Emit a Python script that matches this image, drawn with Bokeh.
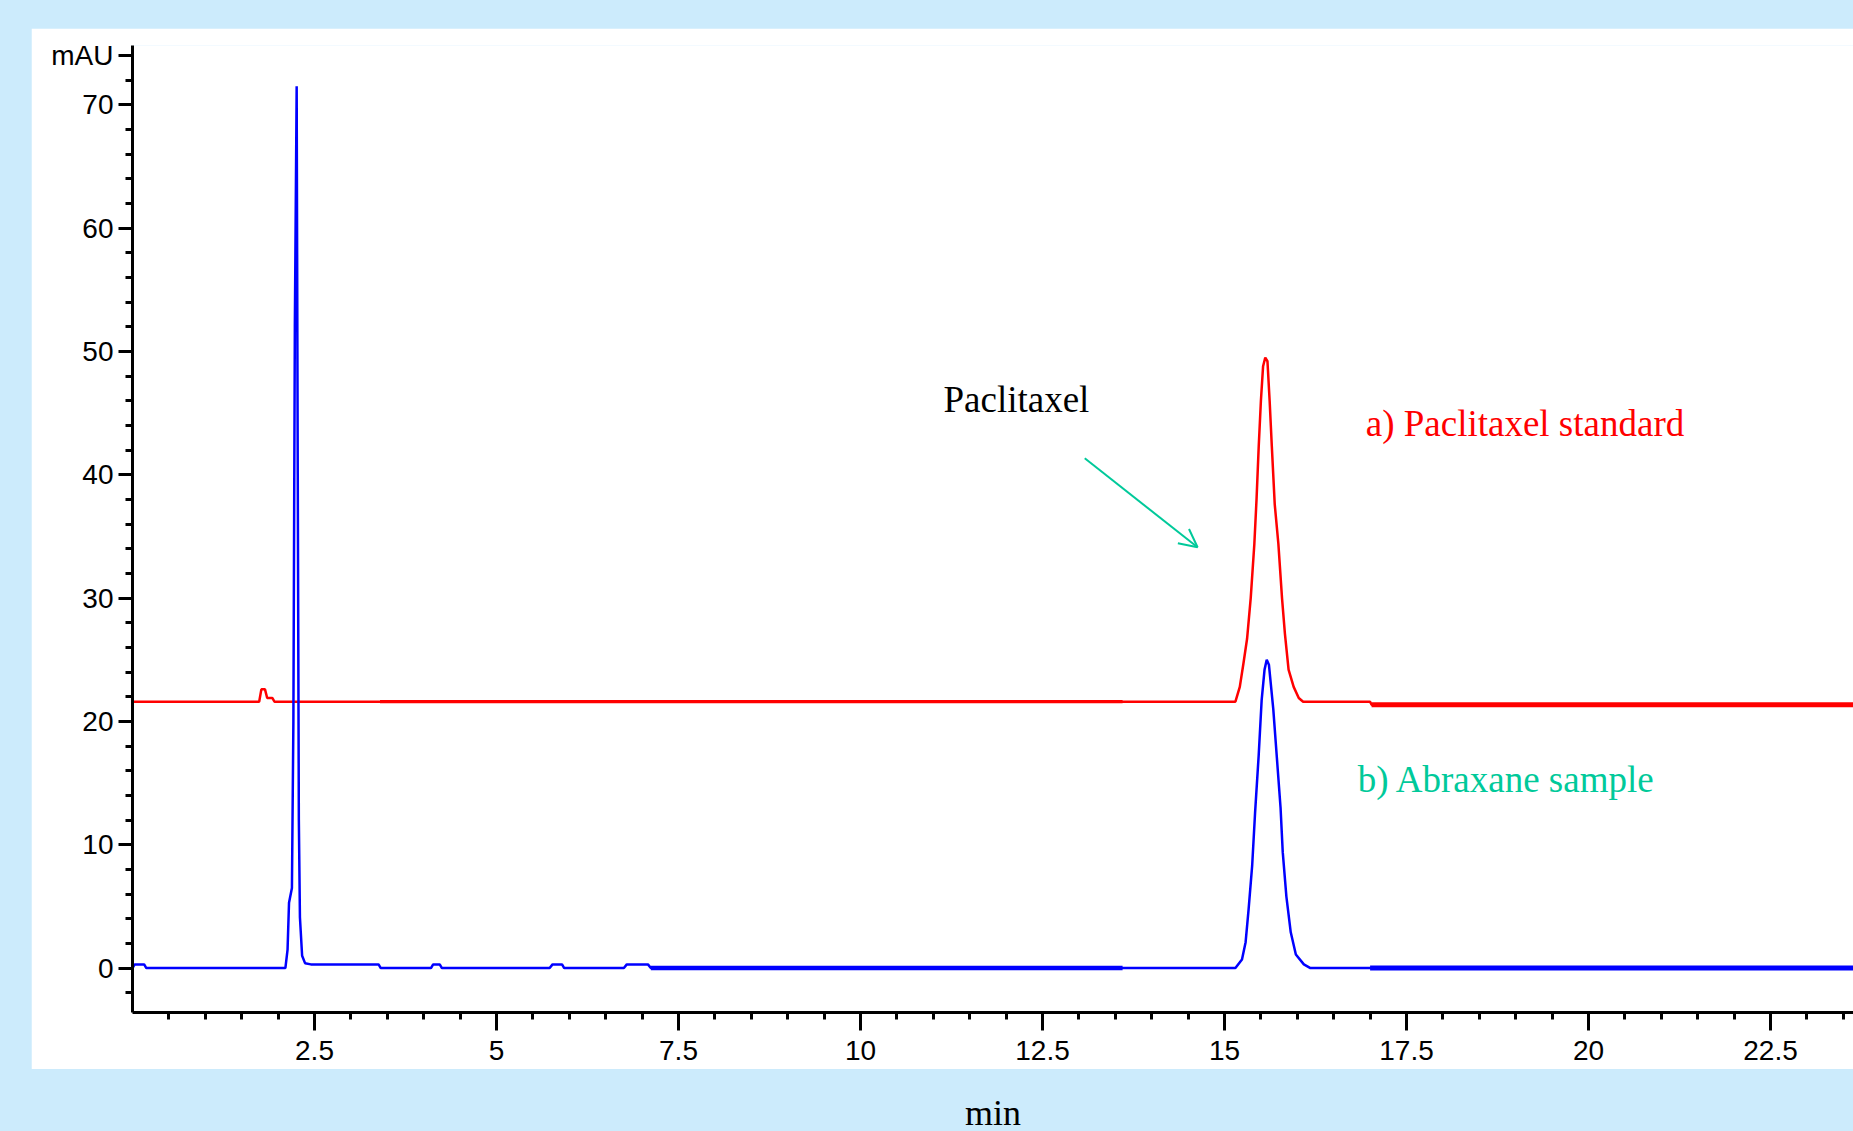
from bokeh.plotting import figure
from bokeh.models import FixedTicker, Label, Arrow, OpenHead, Div
from bokeh.layouts import column
from bokeh.embed import file_html
from bokeh.resources import INLINE

# ---------------- data ----------------
# b) Abraxane sample (blue)
blue_t = [0.00, 0.03, 0.08, 0.16, 0.19, 2.10, 2.13, 2.15, 2.19, 2.21, 2.23, 2.255,
          2.27, 2.285, 2.30, 2.33, 2.37, 2.45, 3.38, 3.41, 4.10, 4.13, 4.22, 4.25,
          5.73, 5.77, 5.90, 5.93, 6.75, 6.79, 7.08, 7.12, 13.6, 15.15, 15.24, 15.29,
          15.33, 15.38, 15.42, 15.47, 15.51, 15.55, 15.58, 15.61, 15.67, 15.72, 15.77,
          15.80, 15.85, 15.91, 15.98, 16.09, 16.18, 17.0, 23.7]
blue_mau = [0.0, 0.3, 0.3, 0.3, 0.0, 0.0, 1.5, 5.3, 6.5, 20.0, 52.0, 71.5,
            40.0, 12.0, 4.1, 1.0, 0.4, 0.3, 0.3, 0.0, 0.0, 0.3, 0.3, 0.0,
            0.0, 0.3, 0.3, 0.0, 0.0, 0.3, 0.3, 0.0, 0.0, 0.0, 0.7, 2.1,
            4.7, 8.3, 12.6, 17.3, 21.7, 24.2, 25.0, 24.6, 21.0, 17.0, 13.0,
            9.4, 5.8, 2.9, 1.1, 0.3, 0.0, 0.0, 0.0]

# a) Paclitaxel standard (red)
red_t = [0.0, 1.74, 1.77, 1.82, 1.85, 1.92, 1.95, 3.4, 13.6, 15.15, 15.21, 15.26,
         15.31, 15.36, 15.41, 15.44, 15.47, 15.50, 15.53, 15.56, 15.59, 15.62, 15.65,
         15.69, 15.74, 15.79, 15.83, 15.88, 15.95, 16.02, 16.08, 17.0, 17.02, 23.7]
red_mau = [21.6, 21.6, 22.6, 22.6, 21.9, 21.9, 21.6, 21.6, 21.6, 21.6, 22.8, 24.7,
           26.7, 30.0, 34.4, 38.0, 42.3, 46.0, 48.8, 49.5, 49.2, 46.0, 42.3,
           37.6, 34.4, 30.0, 27.1, 24.2, 22.8, 21.9, 21.6, 21.6, 21.35, 21.35]

x_ticks = [2.5, 5, 7.5, 10, 12.5, 15, 17.5, 20, 22.5]
y_ticks = [0, 10, 20, 30, 40, 50, 60, 70]
y_unit_tick = 74
y_unit_label = "mAU"
x_unit_label = "min"

peak_label = "Paclitaxel"
label_a = "a) Paclitaxel standard"
label_b = "b) Abraxane sample"

# ---------------- styling ----------------
BG = "#CCEBFC"
TEAL = "#00C99A"
TICK_FONT = "Liberation Sans"
SERIF = "Liberation Serif"

p = figure(width=1822, height=1041, output_backend="svg", toolbar_location=None,
           x_range=(0, 23.64), y_range=(-3.6, 74.8),
           min_border_left=101, min_border_right=0, min_border_top=17,
           min_border_bottom=57, margin=(28, 0, 0, 31))
p.background_fill_color = "white"
p.border_fill_color = "white"
p.outline_line_color = None
p.grid.visible = False

def segment(t, v, lo, hi):
    idx = [i for i, x in enumerate(t) if lo <= x <= hi]
    return [t[i] for i in idx], [v[i] for i in idx]

# red trace
p.line(red_t, red_mau, line_color="#FF0000", line_width=2.5)
tx, vy = segment(red_t, red_mau, 3.4, 13.6)
p.line(tx, vy, line_color="#FF0000", line_width=3.2)
tx, vy = segment(red_t, red_mau, 17.02, 30)
p.line(tx, vy, line_color="#FF0000", line_width=5)

# blue trace
p.line(blue_t, blue_mau, line_color="#0000FF", line_width=2.5)
tx, vy = segment(blue_t, blue_mau, 7.12, 13.6)
p.line(tx, vy, line_color="#0000FF", line_width=4.5)
tx, vy = segment(blue_t, blue_mau, 17.0, 30)
p.line(tx, vy, line_color="#0000FF", line_width=5)

# axes
xa = p.xaxis[0]
xa.ticker = FixedTicker(ticks=x_ticks, minor_ticks=[i * 0.5 for i in range(1, 48)])
ya = p.yaxis[0]
ya.ticker = FixedTicker(ticks=y_ticks + [y_unit_tick], minor_ticks=list(range(-2, 75, 2)))
ya.major_label_overrides = {y_unit_tick: y_unit_label}

for ax in (xa, ya):
    ax.axis_line_width = 3
    ax.axis_line_color = "black"
    ax.major_tick_line_width = 3
    ax.minor_tick_line_width = 3
    ax.major_tick_line_color = "black"
    ax.minor_tick_line_color = "black"
    ax.major_tick_in = 0
    ax.minor_tick_in = 0
    ax.minor_tick_out = 7
    ax.major_label_text_font = TICK_FONT
    ax.major_label_text_font_size = "28px"
    ax.major_label_text_color = "black"
xa.major_tick_out = 18
xa.major_label_standoff = 10
ya.major_tick_out = 14
ya.major_label_standoff = 5

# annotations
p.add_layout(Label(x=11.14, y=46.1, text=peak_label, text_font=SERIF,
                   text_font_size="37px", text_color="black",
                   text_baseline="alphabetic"))
p.add_layout(Label(x=16.94, y=44.15, text=label_a, text_font=SERIF,
                   text_font_size="37px", text_color="#FF0000",
                   text_baseline="alphabetic"))
p.add_layout(Label(x=16.83, y=15.3, text=label_b, text_font=SERIF,
                   text_font_size="37px", text_color=TEAL,
                   text_baseline="alphabetic"))
p.add_layout(Arrow(x_start=13.08, y_start=41.33, x_end=14.63, y_end=34.12,
                   line_color=TEAL, line_width=2,
                   end=OpenHead(size=18, line_color=TEAL, line_width=2)))

xlabel = Div(text=x_unit_label, width=80, height=36, margin=(26, 0, 0, 965),
             styles={"font-family": SERIF, "font-size": "36px", "line-height": "36px",
                     "color": "black"})

layout = column(p, xlabel)

html = file_html(layout, INLINE, title="Paclitaxel HPLC")
html = html.replace("<head>", "<head><style>html,body{background:%s;overflow:hidden;}</style>" % BG, 1)
open("out.html", "w").write(html)
